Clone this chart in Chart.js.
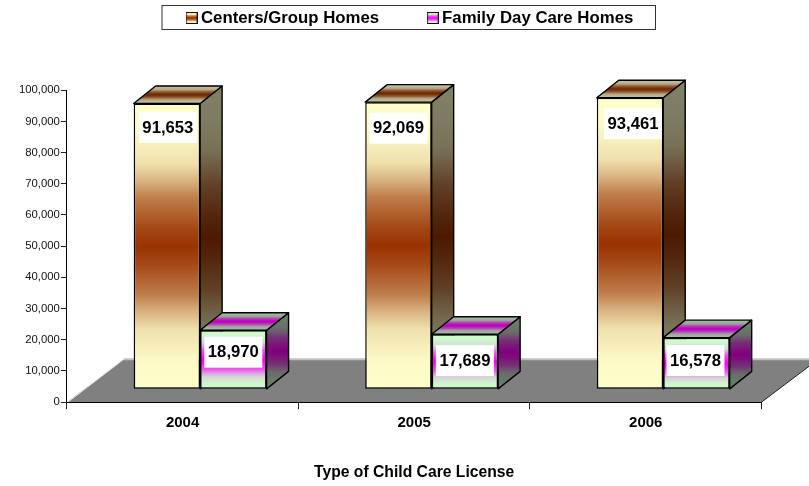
<!DOCTYPE html>
<html><head><meta charset="utf-8">
<style>html,body{margin:0;padding:0;background:#fff}canvas{display:block}</style>
<script src="https://cdn.jsdelivr.net/npm/chart.js@4"></script></head>
<body><div style="width:809px;height:486px"><canvas id="c" width="809" height="486"></canvas></div>
<script>
const categories = ['2004','2005','2006'];
const centersGroupHomes = [91653,92069,93461];
const familyDayCareHomes = [18970,17689,16578];
const seriesNames = ['Centers/Group Homes','Family Day Care Homes'];
const yMax = 100000, yStep = 10000;
const FONT = '"Liberation Sans", Arial, sans-serif';
const shift = {x:17.5, y:-12.8}, depth = {x:22, y:-17.5}, floorDepth = {x:57, y:-43};
const palettes = [
  {front:['#ffffcc','#993300'], side:['#808066','#4d1a00'], top:['#bfbf99','#732600']},
  {front:['#ccffcc','#ff00ff'], side:['#668066','#800080'], top:['#99bf99','#bf00bf']}
];
const labelTopOffset = [[8.5,10.6,10.4],[6.5,11,7.3]];
const labelDx = [[1,0,3],[0,0,-1]];
const gradientCurve = [[0,0],[.1,.03],[.21,.15],[.27,.37],[.33,.63],[.44,.9],[.5,1]];
function mix(a,b,f){const p=h=>[1,3,5].map(i=>parseInt(h.substr(i,2),16));const A=p(a),B=p(b);
  return 'rgb('+A.map((v,i)=>Math.round(v+(B[i]-v)*f)).join(',')+')';}
function grad(ctx,y0,y1,c){const g=ctx.createLinearGradient(0,y0,0,y1);
  gradientCurve.forEach(([p,f])=>{g.addColorStop(p,mix(c[0],c[1],f));g.addColorStop(1-p,mix(c[0],c[1],f));});return g;}
const threeD = {
  id:'threeD',
  beforeDraw(chart){
    const {ctx,chartArea:a,legend} = chart;
    ctx.save();ctx.strokeStyle='#333';ctx.lineWidth=1;ctx.strokeRect(162,5.5,493.5,24);ctx.restore();
    const pad = legend.options.labels.padding;
    legend.left = 190.6 - pad;
    legend.right = legend.left + 640;
    legend.top = 9.6 - pad;
    ctx.save();
    ctx.fillStyle='#808080';ctx.beginPath();
    ctx.moveTo(a.left,a.bottom);ctx.lineTo(a.left+floorDepth.x,a.bottom+floorDepth.y);
    ctx.lineTo(a.right+floorDepth.x,a.bottom+floorDepth.y);ctx.lineTo(a.right,a.bottom);ctx.closePath();ctx.fill();
    ctx.strokeStyle='#c0c0c0';ctx.lineWidth=2;ctx.beginPath();
    ctx.moveTo(a.left+floorDepth.x,a.bottom+floorDepth.y);ctx.lineTo(a.right+floorDepth.x,a.bottom+floorDepth.y);ctx.stroke();
    ctx.strokeStyle='#e8e8e8';ctx.lineWidth=1;ctx.beginPath();
    ctx.moveTo(a.left+1,a.bottom);ctx.lineTo(a.left+floorDepth.x,a.bottom+floorDepth.y);ctx.stroke();
    ctx.strokeStyle='#222';ctx.lineWidth=1;ctx.beginPath();
    ctx.moveTo(a.right,a.bottom);ctx.lineTo(a.right+floorDepth.x,a.bottom+floorDepth.y);ctx.stroke();
    ctx.restore();
  },
  beforeDatasetsDraw(chart){
    const {ctx} = chart;
    ctx.save();ctx.translate(shift.x,shift.y);
    chart.getSortedVisibleDatasetMetas().sort((m,n)=>m.index-n.index).forEach(meta=>{
      const pal = palettes[meta.index];
      meta.data.forEach(bar=>{
        const p = bar.getProps(['x','y','base','width']);
        const l=p.x-p.width/2, r=p.x+p.width/2, t=p.y, b=p.base;
        ctx.strokeStyle='#000';ctx.lineWidth=1.4;ctx.lineJoin='round';
        ctx.fillStyle=grad(ctx,t+depth.y,b,pal.side);
        ctx.beginPath();ctx.moveTo(r,t);ctx.lineTo(r+depth.x,t+depth.y);ctx.lineTo(r+depth.x,b+depth.y);ctx.lineTo(r,b);ctx.closePath();ctx.fill();ctx.stroke();
        ctx.fillStyle=grad(ctx,t+depth.y,t,pal.top);
        ctx.beginPath();ctx.moveTo(l,t);ctx.lineTo(l+depth.x,t+depth.y);ctx.lineTo(r+depth.x,t+depth.y);ctx.lineTo(r,t);ctx.closePath();ctx.fill();ctx.stroke();
      });
    });
  },
  afterDatasetsDraw(chart){
    const {ctx} = chart;
    ctx.restore();
    ctx.save();
    ctx.font='bold 16.7px '+FONT;ctx.textAlign='center';ctx.textBaseline='middle';
    chart.getSortedVisibleDatasetMetas().forEach(meta=>{
      meta.data.forEach((bar,i)=>{
        const p = bar.getProps(['x','y']);
        const v = chart.data.datasets[meta.index].data[i];
        const cx = p.x+shift.x+labelDx[meta.index][i], top = p.y+shift.y+labelTopOffset[meta.index][i];
        ctx.fillStyle='#fff';ctx.fillRect(cx-29,top,58,31);
        ctx.fillStyle='#000';ctx.fillText(v.toLocaleString('en-US'),cx,top+16);
      });
    });
    ctx.restore();
  }
};
const ctx = document.getElementById('c').getContext('2d');
function barFill(i){return c=>{
  const s=c.chart.scales.y; if(!s||c.raw===undefined||!c.chart.chartArea) return palettes[i].front[1];
  return grad(c.chart.ctx,s.getPixelForValue(c.raw),s.getPixelForValue(0),palettes[i].front);
};}
function swatch(i){const cv=document.createElement('canvas');cv.width=12;cv.height=12;const x=cv.getContext('2d');
  x.fillStyle=grad(x,0,12,palettes[i].front);x.fillRect(0,0,12,12);x.strokeStyle='#111';x.strokeRect(.5,.5,11,11);return cv;}
new Chart(ctx,{
  type:'bar',
  data:{labels:categories,datasets:[
    {label:seriesNames[0],data:centersGroupHomes,backgroundColor:barFill(0),borderColor:'#000',borderWidth:1.5,borderSkipped:false},
    {label:seriesNames[1],data:familyDayCareHomes,backgroundColor:barFill(1),borderColor:'#000',borderWidth:1.5,borderSkipped:false}
  ]},
  options:{
    responsive:false,animation:false,
    layout:{padding:{top:10.8,left:18,right:47.5,bottom:4}},
    datasets:{bar:{barPercentage:1,categoryPercentage:.574}},
    plugins:{
      tooltip:{enabled:false},
      legend:{position:'top',align:'start',
        labels:{color:'#000',padding:52.6,boxWidth:2,boxHeight:2,font:{family:FONT,weight:'bold',size:16.8},
          usePointStyle:true,
          generateLabels:ch=>ch.data.datasets.map((d,i)=>({text:d.label,datasetIndex:i,pointStyle:swatch(i),fontColor:'#000',lineWidth:0,strokeStyle:'transparent',fillStyle:'transparent'}))}}
    },
    scales:{
      x:{grid:{drawOnChartArea:false,offset:true,tickLength:7,tickColor:'#222',tickWidth:1},border:{color:'#000',width:1},
        ticks:{color:'#000',font:{family:FONT,weight:'bold',size:15},padding:5,maxRotation:0},
        title:{display:true,text:'Type of Child Care License',color:'#000',font:{family:FONT,weight:'bold',size:15.7},padding:{top:26,bottom:0}}},
      y:{min:0,max:yMax,grid:{drawOnChartArea:false,tickLength:6,tickColor:'#222'},border:{color:'#000',width:1},
        ticks:{stepSize:yStep,color:'#111',font:{family:FONT,size:11.3},padding:1,callback:v=>v.toLocaleString('en-US')}}
    }
  },
  plugins:[threeD]
});
</script></body></html>
